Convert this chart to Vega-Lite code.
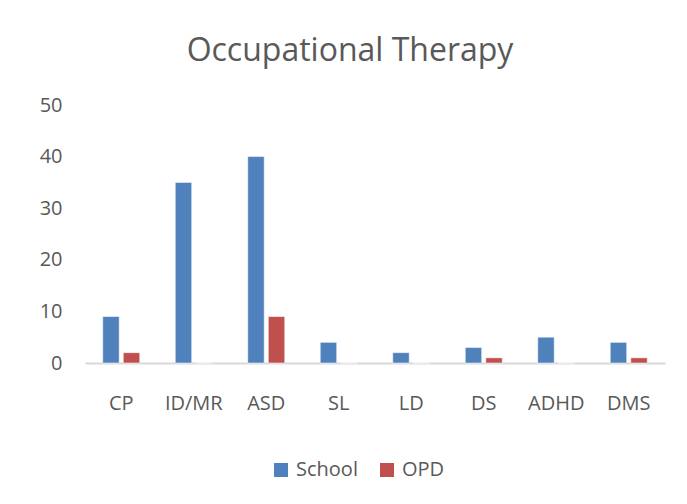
{
  "$schema": "https://vega.github.io/schema/vega-lite/v6.json",
  "autosize": "none",
  "width": 580,
  "height": 258,
  "padding": {"left": 85, "top": 105, "right": 22, "bottom": 141},
  "background": "white",
  "title": {
    "text": "Occupational Therapy",
    "font": "Open Sans",
    "fontSize": 32,
    "fontWeight": "normal",
    "color": "#595959",
    "anchor": "middle",
    "dx": -25,
    "offset": 27
  },
  "config": {
    "view": {"stroke": null},
    "font": "Open Sans"
  },
  "data": {
    "values": [
      {"cat": "CP", "series": "School", "value": 9},
      {"cat": "CP", "series": "OPD", "value": 2},
      {"cat": "ID/MR", "series": "School", "value": 35},
      {"cat": "ID/MR", "series": "OPD", "value": 0},
      {"cat": "ASD", "series": "School", "value": 40},
      {"cat": "ASD", "series": "OPD", "value": 9},
      {"cat": "SL", "series": "School", "value": 4},
      {"cat": "SL", "series": "OPD", "value": 0},
      {"cat": "LD", "series": "School", "value": 2},
      {"cat": "LD", "series": "OPD", "value": 0},
      {"cat": "DS", "series": "School", "value": 3},
      {"cat": "DS", "series": "OPD", "value": 1},
      {"cat": "ADHD", "series": "School", "value": 5},
      {"cat": "ADHD", "series": "OPD", "value": 0},
      {"cat": "DMS", "series": "School", "value": 4},
      {"cat": "DMS", "series": "OPD", "value": 1}
    ]
  },
  "mark": {"type": "bar", "stroke": "#ffffff", "strokeOpacity": 0.5, "strokeWidth": 1},
  "encoding": {
    "x": {
      "field": "cat",
      "type": "nominal",
      "sort": null,
      "scale": {"paddingInner": 0.49, "paddingOuter": 0.245},
      "axis": {
        "title": null,
        "labelAngle": 0,
        "labelFontSize": 20,
        "labelColor": "#595959",
        "labelPadding": 30,
        "ticks": false,
        "domainColor": "#d9d9d9",
        "domainWidth": 2
      }
    },
    "xOffset": {
      "field": "series",
      "sort": ["School", "OPD"],
      "scale": {"paddingInner": 0.2}
    },
    "y": {
      "field": "value",
      "type": "quantitative",
      "scale": {"domain": [0, 50]},
      "axis": {
        "title": null,
        "values": [0, 10, 20, 30, 40, 50],
        "labelFontSize": 20,
        "labelColor": "#595959",
        "labelPadding": 23,
        "ticks": false,
        "domain": false,
        "grid": false
      }
    },
    "color": {
      "field": "series",
      "type": "nominal",
      "sort": ["School", "OPD"],
      "scale": {"domain": ["School", "OPD"], "range": ["#4f81bd", "#c0504d"]},
      "legend": {
        "title": null,
        "orient": "none",
        "direction": "horizontal",
        "legendX": 186,
        "legendY": 355,
        "symbolType": "square",
        "symbolSize": 196,
        "symbolStrokeWidth": 0,
        "symbolOpacity": 1,
        "labelFontSize": 20,
        "labelColor": "#595959",
        "labelOffset": 5,
        "columnPadding": 19
      }
    }
  }
}
